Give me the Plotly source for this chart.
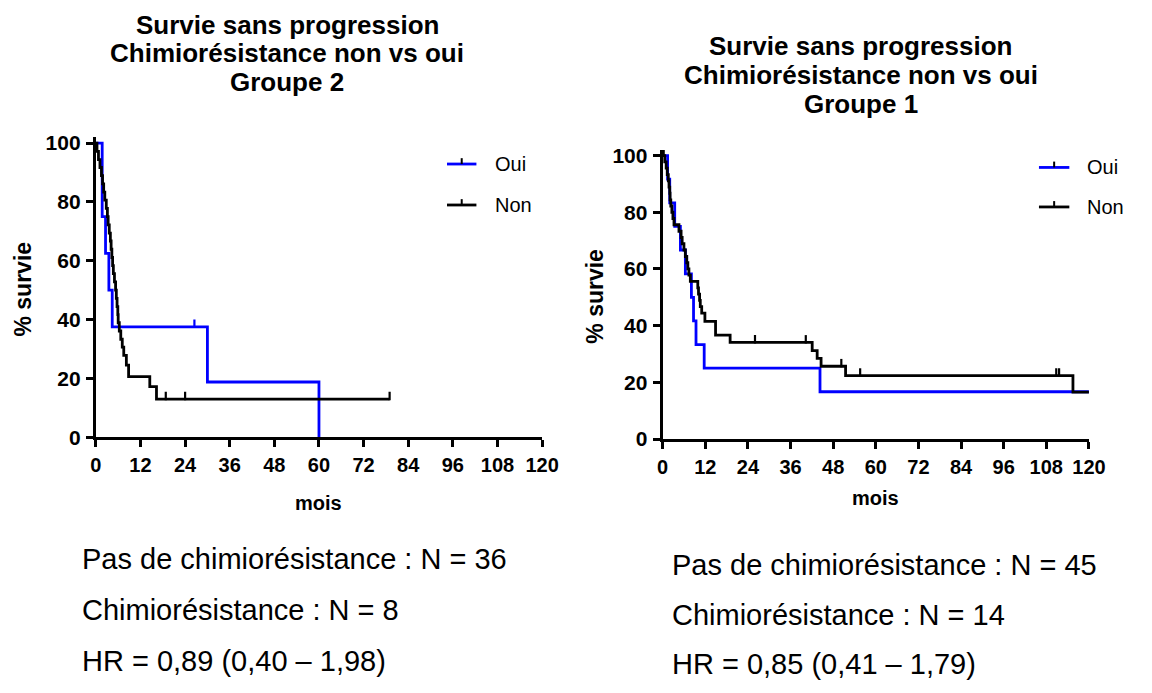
import plotly.graph_objects as go

# ---------------- Kaplan-Meier step data (months, % survival) ----------------
# Groupe 2
g2_oui_t = [0, 1.7, 2.6, 3.5, 4.4, 30.0, 60.0]
g2_oui_s = [100, 75.0, 62.5, 50.0, 37.5, 18.75, 0]
g2_oui_cens_t = [26.5]
g2_oui_cens_s = [37.5]

g2_non_t = [0, 0.3, 0.7, 1.1, 1.5, 1.8, 2.1, 2.4, 2.8, 3.1, 3.3, 3.6, 3.9, 4.1,
            4.3, 4.5, 4.7, 5.0, 5.3, 5.5, 5.7, 5.9, 6.0, 6.3, 6.7, 7.1, 7.5,
            8.2, 8.8, 14.5, 16.3, 79.0]
g2_non_s = [100, 97.2, 94.4, 91.7, 88.9, 86.1, 83.3, 80.6, 77.8, 75.0, 72.2,
            69.4, 66.7, 63.9, 61.1, 58.3, 55.6, 52.8, 50.0, 47.2, 44.4, 41.7,
            38.9, 36.1, 33.3, 30.6, 27.8, 24.5, 20.6, 17.2, 12.9, 12.9]
g2_non_cens_t = [18.8, 24.0, 79.0]
g2_non_cens_s = [12.9, 12.9, 12.9]

# Groupe 1
g1_oui_t = [0, 1.4, 2.0, 3.4, 5.0, 6.4, 8.1, 8.7, 9.4, 11.7, 44.3, 120.0]
g1_oui_s = [100, 91.7, 83.3, 75.0, 66.7, 58.3, 50.0, 41.7, 33.3, 25.0, 16.7, 16.7]
g1_oui_cens_t = []
g1_oui_cens_s = []

g1_non_t = [0, 0.6, 1.0, 1.3, 1.6, 1.8, 2.0, 2.1, 2.3, 2.6, 2.9, 3.2, 4.6, 5.2,
            5.5, 6.0, 6.4, 6.8, 7.1, 7.4, 7.8, 9.9, 10.1, 10.4, 10.6, 11.0,
            11.9, 14.9, 19.0, 42.1, 43.5, 44.6, 51.5, 115.5, 120.0]
g1_non_s = [100, 97.8, 95.6, 93.3, 91.1, 88.9, 86.7, 84.4, 82.2, 80.0, 77.8,
            75.6, 73.3, 71.1, 68.9, 66.7, 64.4, 62.2, 60.0, 57.8, 55.6, 53.3,
            51.1, 48.9, 46.7, 44.4, 41.5, 36.7, 34.1, 31.2, 28.5, 25.7, 22.4,
            16.6, 16.6]
g1_non_cens_t = [0.3, 26.0, 40.3, 50.3, 55.6, 110.8, 111.6]
g1_non_cens_s = [100, 34.1, 34.1, 25.7, 22.4, 22.4, 22.4]

x_ticks = list(range(0, 121, 12))
y_ticks = [0, 20, 40, 60, 80, 100]

titles = [
    ["Survie sans progression", "Chimiorésistance non vs oui", "Groupe 2"],
    ["Survie sans progression", "Chimiorésistance non vs oui", "Groupe 1"],
]
stats = [
    ["Pas de chimiorésistance : N = 36", "Chimiorésistance : N = 8",
     "HR = 0,89 (0,40 \u2013 1,98)"],
    ["Pas de chimiorésistance : N = 45", "Chimiorésistance : N = 14",
     "HR = 0,85 (0,41 \u2013 1,79)"],
]
series_names = ["Oui", "Non"]

BLUE = "#0000FF"
BLACK = "#000000"
FONT = "Liberation Sans, Arial, sans-serif"
W, H = 1152, 693


def px(x):
    return x / W


def py(y):
    return 1 - y / H


fig = go.Figure()

panels = [
    dict(xa="x", ya="y",
         curves=[(g2_oui_t, g2_oui_s, g2_oui_cens_t, g2_oui_cens_s, BLUE),
                 (g2_non_t, g2_non_s, g2_non_cens_t, g2_non_cens_s, BLACK)]),
    dict(xa="x2", ya="y2",
         curves=[(g1_oui_t, g1_oui_s, g1_oui_cens_t, g1_oui_cens_s, BLUE),
                 (g1_non_t, g1_non_s, g1_non_cens_t, g1_non_cens_s, BLACK)]),
]

TICK_UP = 1.1  # censor ticks sit just above the curve
for p in panels:
    for (t, s, ct, cs, col), name in zip(p["curves"], series_names):
        fig.add_trace(go.Scatter(
            x=t, y=s, mode="lines", line=dict(color=col, width=2.8, shape="hv"),
            name=name, xaxis=p["xa"], yaxis=p["ya"], showlegend=False))
        if ct:
            fig.add_trace(go.Scatter(
                x=ct, y=[v + TICK_UP for v in cs], mode="markers",
                marker=dict(symbol="line-ns", size=6,
                            line=dict(color=col, width=2.2)),
                xaxis=p["xa"], yaxis=p["ya"], showlegend=False,
                hoverinfo="skip"))

axis_common = dict(
    showline=True, linewidth=3, linecolor="black", ticks="outside",
    ticklen=7, tickwidth=3, tickcolor="black", showgrid=False, zeroline=False,
    fixedrange=True,
)
xfont = dict(family=FONT, size=20, color="black", weight="bold")
yfont = dict(family=FONT, size=21, color="black", weight="bold")

fig.update_layout(
    width=W, height=H, margin=dict(l=0, r=0, t=0, b=0),
    paper_bgcolor="white", plot_bgcolor="white", showlegend=False,
    xaxis=dict(domain=[px(91.7), px(547)], range=[0, 120], tickvals=x_ticks,
               tickfont=xfont, anchor="y", ticklabelstandoff=1, **axis_common),
    yaxis=dict(domain=[py(442), py(134.5)], range=[0, 102], tickvals=y_ticks,
               tickfont=yfont, anchor="x", ticklabelstandoff=1, **axis_common),
    xaxis2=dict(domain=[px(670), px(1105)], range=[0, 120], tickvals=x_ticks,
                tickfont=xfont, anchor="y2", ticklabelstandoff=1, **axis_common),
    yaxis2=dict(domain=[py(444), py(147.5)], range=[0, 102], tickvals=y_ticks,
                tickfont=yfont, anchor="x2", ticklabelstandoff=1, **axis_common),
)

annotations = []
shapes = []

# titles
for cx, ys, lines in [(287, [19, 48, 78], titles[0]), (872, [41, 71, 100], titles[1])]:
    for yy, txt in zip(ys, lines):
        annotations.append(dict(
            x=px(cx), y=py(yy), xref="paper", yref="paper", text=txt,
            showarrow=False, xanchor="center", yanchor="middle",
            font=dict(family=FONT, size=26, color="black", weight="bold")))

# axis titles
for cx, cy in [(319, 509), (887, 504)]:
    annotations.append(dict(
        x=px(cx), y=py(cy), xref="paper", yref="paper", text="mois",
        showarrow=False, xanchor="center", yanchor="middle",
        font=dict(family=FONT, size=20, color="black", weight="bold")))
for cx, cy in [(17, 290), (601, 298)]:
    annotations.append(dict(
        x=px(cx), y=py(cy), xref="paper", yref="paper", text="% survie",
        showarrow=False, xanchor="center", yanchor="middle", textangle=-90,
        font=dict(family=FONT, size=23, color="black", weight="bold")))

# legends
for lx0, lx1, tx, ys in [(450, 480, 497, [162, 204]), (1054, 1085, 1101, [165.5, 206])]:
    for yy, name, col in zip(ys, series_names, [BLUE, BLACK]):
        shapes.append(dict(type="line", xref="paper", yref="paper",
                           x0=px(lx0), x1=px(lx1), y0=py(yy), y1=py(yy),
                           line=dict(color=col, width=2.8)))
        mid = (lx0 + lx1) / 2
        shapes.append(dict(type="line", xref="paper", yref="paper",
                           x0=px(mid), x1=px(mid), y0=py(yy), y1=py(yy - 6),
                           line=dict(color=BLACK, width=2)))
        annotations.append(dict(
            x=px(tx), y=py(yy), xref="paper", yref="paper", text=name,
            showarrow=False, xanchor="left", yanchor="middle",
            font=dict(family=FONT, size=20, color="black")))

# statistics below each chart
for lx, ys, lines in [(75, [567, 619, 671], stats[0]), (678, [573, 624, 675], stats[1])]:
    for yy, txt in zip(ys, lines):
        annotations.append(dict(
            x=px(lx), y=py(yy), xref="paper", yref="paper", text=txt,
            showarrow=False, xanchor="left", yanchor="middle",
            font=dict(family=FONT, size=29, color="black")))

fig.update_layout(annotations=annotations, shapes=shapes)

fig.write_html("out.html")
